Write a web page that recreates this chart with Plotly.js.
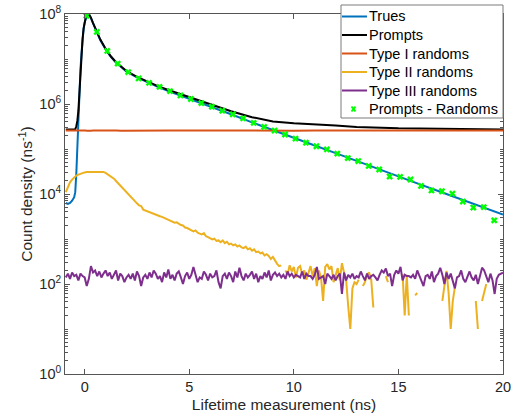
<!DOCTYPE html>
<html>
<head>
<meta charset="utf-8">
<script src="https://cdn.plot.ly/plotly-3.0.1.min.js"></script>
<style>html,body{margin:0;padding:0;background:#fff;}#chart{width:520px;height:417px;}</style>
</head>
<body>
<div id="chart"></div>
<script>
// Smooth-curve time grid (ns)
const timeSmooth = [-0.9,-0.8,-0.7,-0.6,-0.5,-0.45,-0.4,-0.35,-0.3,-0.25,-0.2,-0.15,-0.1,-0.05,0,0.05,0.1,0.15,0.2,0.3,0.4,0.5,0.75,1,1.25,1.5,1.75,2,2.5,3,3.5,4,5,6,7,8,9,10,11,12,13,14,15,16,17,18,19,20];

const trues = [6300,6000,6300,7100,8500,11000,28000,126000,400000,1.9e6,6.0e6,1.38e7,2.75e7,4.7e7,6.5e7,8.1e7,9.2e7,9.8e7,9.8e7,8.1e7,6.2e7,4.7e7,2.6e7,1.66e7,1.12e7,8.3e6,6.5e6,5.2e6,3.9e6,3.0e6,2.4e6,1.95e6,1.32e6,8.9e5,5.9e5,3.9e5,2.6e5,1.78e5,1.2e5,8.1e4,5.5e4,3.7e4,2.5e4,1.66e4,1.12e4,7.6e3,5.1e3,3.5e3];

const prompts = [2.7e5,2.7e5,2.7e5,2.7e5,2.7e5,2.75e5,3.2e5,4.2e5,7.1e5,2.1e6,6.3e6,1.41e7,2.8e7,4.8e7,6.6e7,8.3e7,9.3e7,1.0e8,1.0e8,8.3e7,6.3e7,4.8e7,2.7e7,1.7e7,1.15e7,8.5e6,6.6e6,5.4e6,4.0e6,3.1e6,2.5e6,2.05e6,1.41e6,1.0e6,6.9e5,5.1e5,4.1e5,3.72e5,3.55e5,3.31e5,3.09e5,2.95e5,2.88e5,2.85e5,2.82e5,2.79e5,2.75e5,2.72e5];

const typeI = [2.57e5,2.58e5,2.56e5,2.57e5,2.58e5,2.56e5,2.57e5,2.58e5,2.57e5,2.56e5,2.58e5,2.57e5,2.56e5,2.57e5,2.58e5,2.57e5,2.56e5,2.58e5,2.57e5,2.56e5,2.57e5,2.58e5,2.57e5,2.56e5,2.57e5,2.58e5,2.56e5,2.57e5,2.58e5,2.57e5,2.56e5,2.57e5,2.58e5,2.56e5,2.57e5,2.58e5,2.57e5,2.56e5,2.57e5,2.58e5,2.57e5,2.56e5,2.58e5,2.57e5,2.56e5,2.57e5,2.58e5,2.57e5];

// Noisy-curve time grid: bins of 0.1 ns from -0.9 to 20.0
const timeNoise = Array.from({length: 210}, (_, i) => Math.round((-0.9 + 0.1 * i) * 100) / 100);

const typeII = [
11000,14500,18200,20900,23400,25700,26900,28200,28800,30200,
30900,30900,31600,31600,31600,31600,31600,31600,30900,29500,
27500,25700,24000,21900,19500,17400,15500,13800,12000,10500,
9300,8500,7400,6900,6200,5600,5400,4500,4300,4200,
4000,3700,3600,3500,3300,3200,3100,2950,2750,2700,
2500,2400,2300,2350,2150,2050,2000,1800,1750,1650,
1580,1480,1550,1380,1320,1260,1350,1150,1100,1050,
980,1020,910,930,850,930,810,870,760,790,
720,760,680,720,650,630,680,590,620,550,
590,510,525,480,500,430,460,420,360,400,
330,280,250,260,null,200,160,260,190,240,
140,230,250,165,200,125,190,250,150,225,
90,200,140,42,240,275,210,250,110,160,
225,120,290,180,125,32,10,80,110,100,
125,null,90,110,160,180,125,30,null,null,
null,null,null,150,110,null,null,null,null,null,
null,165,20,160,20,null,null,56,63,null,
null,null,null,null,null,null,null,null,null,null,
42,100,195,63,10,42,85,null,null,null,
null,null,null,null,null,null,42,10,null,42,
70,100,null,null,null,null,null,null,null,null];

const typeIII = [
140,170,130,180,150,160,120,170,150,140,
90,130,250,180,200,150,190,140,170,200,
150,180,130,160,200,120,170,150,110,140,
160,130,170,120,190,150,90,140,160,130,
180,140,200,170,130,150,110,180,140,210,
130,160,120,170,190,140,100,150,180,130,
160,240,150,110,140,130,190,160,120,170,
140,150,200,110,80,150,170,130,180,150,
110,190,140,230,150,120,170,140,160,190,
130,170,110,150,130,180,140,200,120,160,
180,150,170,140,160,130,190,150,170,140,
160,150,140,190,130,170,150,150,130,160,
240,130,140,150,100,170,150,130,160,120,
150,170,60,180,120,160,140,170,130,150,
140,190,150,120,170,130,150,160,140,120,
160,200,180,220,150,170,90,160,200,170,
240,120,160,150,150,140,160,130,200,150,
120,90,150,160,130,190,110,150,170,230,
160,100,180,130,170,110,80,140,150,200,
130,110,150,190,140,120,160,100,150,230,
200,140,110,170,120,60,130,160,170,180];

const timeMarkers = [0.08,0.58,1.08,1.58,2.08,2.58,3.08,3.58,4.08,4.58,5.08,5.58,6.08,6.58,7.08,7.58,8.08,8.58,9.08,9.58,10.08,10.58,11.08,11.58,12.08,12.58,13.08,13.58,14.08,14.58,15.08,15.58,16.08,16.58,17.08,17.58,18.08,18.58,19.08,19.58];
const promptsMinusRandoms = [9.1e7,4.0e7,1.51e7,7.9e6,5.1e6,3.7e6,2.95e6,2.4e6,1.93e6,1.55e6,1.29e6,1.05e6,8.7e5,7.1e5,5.9e5,4.8e5,3.8e5,3.1e5,2.57e5,2.1e5,1.7e5,1.38e5,1.15e5,9.8e4,7.9e4,6.3e4,5.4e4,4.2e4,3.5e4,2.45e4,2.4e4,2.1e4,1.51e4,1.2e4,1.15e4,1.02e4,6.8e3,5.0e3,5.1e3,2.6e3];

const seriesNames = ['Trues','Prompts','Type I randoms','Type II randoms','Type III randoms','Prompts - Randoms'];
const seriesColors = ['#0072BD','#000000','#D95319','#EDB120','#7E2F8E','#00FF00'];

const yTickVals = [1, 1e2, 1e4, 1e6, 1e8];
const yTickText = ['10<sup>0</sup>','10<sup>2</sup>','10<sup>4</sup>','10<sup>6</sup>','10<sup>8</sup>'];
const xTickVals = [0, 5, 10, 15, 20];

const lw = 2;
const traces = [
  {x: timeSmooth, y: trues, name: seriesNames[0], mode: 'lines', line: {color: seriesColors[0], width: lw}},
  {x: timeSmooth, y: prompts, name: seriesNames[1], mode: 'lines', line: {color: seriesColors[1], width: lw}},
  {x: timeSmooth, y: typeI, name: seriesNames[2], mode: 'lines', line: {color: seriesColors[2], width: lw}},
  {x: timeNoise, y: typeII, name: seriesNames[3], mode: 'lines', connectgaps: false, line: {color: seriesColors[3], width: lw}},
  {x: timeNoise, y: typeIII, name: seriesNames[4], mode: 'lines', line: {color: seriesColors[4], width: lw}},
  {x: timeMarkers, y: promptsMinusRandoms, name: seriesNames[5], mode: 'markers', marker: {symbol: 'x', size: 6, color: seriesColors[5], line: {width: 0}}}
];

// Custom legend (drawn in paper coordinates, matching the MATLAB-style box)
const M = {l: 65, r: 17, t: 14, b: 43};
const W = 520, H = 417;
const pw = W - M.l - M.r, ph = H - M.t - M.b;
const px2x = px => (px - M.l) / pw;
const py2y = py => (H - M.b - py) / ph;

const legBox = {x0: 341, x1: 503, y0: 5, y1: 118};
const rowY0 = 16.5, rowStep = 18.5;
const shapes = [{type: 'rect', xref: 'paper', yref: 'paper', layer: 'above',
  x0: px2x(legBox.x0), x1: px2x(legBox.x1), y0: py2y(legBox.y1), y1: py2y(legBox.y0),
  fillcolor: '#ffffff', line: {color: '#7a7a7a', width: 1}}];
const annotations = [];
seriesNames.forEach((nm, i) => {
  const cy = rowY0 + i * rowStep;
  if (i < 5) {
    shapes.push({type: 'line', xref: 'paper', yref: 'paper', layer: 'above',
      x0: px2x(342), x1: px2x(367), y0: py2y(cy), y1: py2y(cy),
      line: {color: seriesColors[i], width: 2}});
  } else {
    shapes.push({type: 'line', xref: 'paper', yref: 'paper', layer: 'above',
      x0: px2x(351.5), x1: px2x(355.5), y0: py2y(cy - 2.5), y1: py2y(cy + 2.5), line: {color: seriesColors[i], width: 2}});
    shapes.push({type: 'line', xref: 'paper', yref: 'paper', layer: 'above',
      x0: px2x(351.5), x1: px2x(355.5), y0: py2y(cy + 2.5), y1: py2y(cy - 2.5), line: {color: seriesColors[i], width: 2}});
  }
  annotations.push({xref: 'paper', yref: 'paper', x: px2x(368), y: py2y(cy), xanchor: 'left', yanchor: 'middle',
    text: nm, showarrow: false, borderpad: 0, font: {size: 14.5, color: '#000000'}});
});

const axisColor = '#555555';
const fontFam = 'Liberation Sans, Arial, Helvetica, sans-serif';
const layout = {
  width: W, height: H,
  margin: M,
  paper_bgcolor: '#ffffff', plot_bgcolor: '#ffffff',
  font: {family: fontFam, color: '#262626', size: 14},
  showlegend: false,
  shapes: shapes,
  annotations: annotations,
  xaxis: {
    range: [-0.94, 20], tickvals: xTickVals,
    ticks: 'inside', ticklen: 5, tickcolor: axisColor, showline: true, linecolor: axisColor, linewidth: 1,
    mirror: 'ticks', showgrid: false, zeroline: false, ticklabelstandoff: 0,
    tickfont: {size: 14.5, color: '#262626'},
    title: {text: 'Lifetime measurement (ns)', font: {size: 15.5, color: '#262626'}, standoff: 4}
  },
  yaxis: {
    type: 'log', range: [0, 8], tickvals: yTickVals, ticktext: yTickText,
    ticks: 'inside', ticklen: 5, tickcolor: axisColor, showline: true, linecolor: axisColor, linewidth: 1,
    mirror: 'ticks', showgrid: false, zeroline: false,
    minor: {ticks: 'inside', ticklen: 3, tickcolor: axisColor, dtick: 'D1', showgrid: false},
    tickfont: {size: 14.5, color: '#262626'},
    title: {text: 'Count density (ns<sup>-1</sup>)', font: {size: 15.5, color: '#262626'}, standoff: 2}
  }
};

Plotly.newPlot('chart', traces, layout, {displayModeBar: false, staticPlot: true});
</script>
</body>
</html>
